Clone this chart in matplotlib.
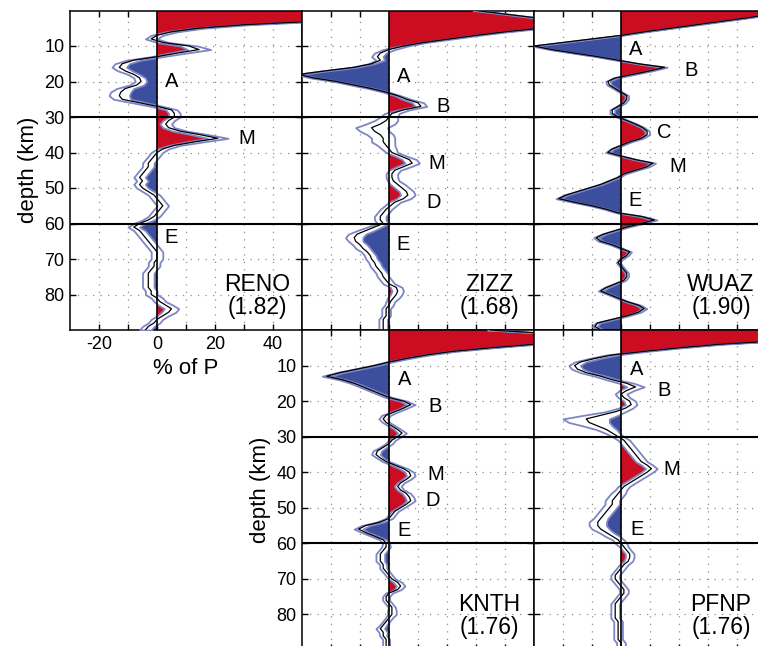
import numpy as np
import matplotlib
matplotlib.use('Agg')
import matplotlib.pyplot as plt

plt.rcParams['font.family'] = ['Liberation Sans', 'DejaVu Sans']

# receiver-function stacks, 1 km sampling from 0 to 90 km (values in % of P)
depth = np.arange(0, 91)

reno_rf = [55, 55, 55, 55, 30, 14, 5, 0, -2, 2,
           11, 14.5, 7, 0, -8, -12, -13, -11, -8, -6,
           -5.5, -7, -11, -12.5, -13, -12, -6, 0, 5, 6,
           6, 4, 3, 4, 8, 15, 21, 13, 6, 2,
           0, -1, -2, -3, -3, -4, -5, -6, -5, -6,
           -5, -3, -1, 0, 1, 2, 1, 0, -1, -3,
           -6, -8, -6, -5, -4, -3, -2, -1, 0, 0,
           0, -1, -1, -2, -3, -3, -3, -3, -3, -2,
           -2, 0, 1, 3, 5, 4, 2, 0, -1, -3,
           -4]
reno_err = [1.5, 1.5, 1.5, 1.5, 2, 2, 2, 2, 2, 2,
            3, 4, 3, 2, 2.5, 2.5, 2.5, 2.5, 2, 2,
            2, 2.5, 3, 3.5, 3.5, 3, 2.5, 2, 2, 2,
            2, 2, 2, 2, 2.5, 3, 3.5, 3, 2, 2,
            2, 2, 2, 2, 2, 2, 2, 2, 2, 2,
            2, 2, 2, 2, 2, 2, 2, 2, 2, 2,
            2, 2, 2, 2, 2, 2, 2, 2, 2, 2,
            2, 2, 2, 2, 2, 2, 2, 2, 2, 2,
            2, 2, 2, 2.5, 2.5, 2.5, 2, 2, 2, 2,
            2]

zizz_rf = [30, 40, 50, 55, 55, 52, 40, 30, 21, 12,
           5, 0, -3, -4, -3, -6, -12, -22, -31, -26,
           -18, -12, -6, -1, 3, 6, 10, 11, 5, 1,
           0, -1, -3, -6, -5, -3, -2, -2, -1, 0,
           1, 4, 7, 8, 5, 2, 1, 1, 1.5, 3,
           4.5, 6, 6.5, 5, 2, 0.5, -1, -2, -3, -3,
           -2, -5, -8, -11, -12, -11.5, -10, -9, -7.5, -6.5,
           -6, -5, -4.5, -3.5, -2.5, -2, -1, 0, 2.5, 3,
           2.5, 1.5, 0.5, 0, -1, -1, -1, -2, -2, -2,
           -2]
zizz_err = [1, 1, 1, 1, 1, 1, 1, 1, 1, 1,
            1.5, 2, 2, 2, 1.5, 1, 1, 1, 1, 1,
            1, 1, 1, 1, 1, 1.5, 2, 2, 2, 2.5,
            3, 4, 5, 5.5, 5, 4.5, 4, 4, 3, 2.5,
            2, 2, 2.5, 2.5, 2.5, 2, 2, 2, 2, 2.5,
            2.5, 2.5, 2.5, 2.5, 2, 2, 2, 2, 2, 2,
            2, 2.5, 3, 3, 3, 2.5, 2.5, 2.5, 2, 2,
            2, 2, 2, 2, 2, 2, 2, 2, 2, 2,
            2, 2, 1.5, 1.5, 1.5, 1.5, 1.5, 1.5, 1.5, 1.5,
            1.5]

wuaz_rf = [60, 52, 44, 35, 26, 17, 8, 0, -10, -20,
           -30, -24, -16, -8, -1, 6, 15, 10, 4, -2,
           -4.5, -4, -2, 0, 2, 2, 1, -1, -3, -3,
           -1, 2, 5, 7.5, 9, 9, 7, 3, 0, -3,
           -4.5, 0, 5, 11, 9, 5, 1, -1, -4, -7,
           -11, -15, -19, -21.5, -16, -10, -5, -1, 7, 11.5,
           7, 2, -2, -6, -8.5, -7, -3, 0, 3, 2,
           0, -1, 0, 1, 2, 2, 1, -2, -5, -7,
           -4, -1, 2, 6, 8, 6, 2, -3, -8, -9,
           -7]
wuaz_err = [0.6, 0.6, 0.6, 0.6, 0.6, 0.6, 0.6, 0.6, 0.6, 0.6,
            0.8, 0.6, 0.6, 0.6, 0.6, 0.6, 0.9, 0.8, 0.6, 0.8,
            0.8, 0.8, 0.6, 0.6, 0.6, 0.6, 0.6, 0.6, 0.8, 0.8,
            0.6, 0.6, 0.6, 0.6, 0.8, 0.8, 0.6, 0.6, 0.6, 0.6,
            0.8, 0.6, 0.6, 0.9, 0.8, 0.6, 0.6, 0.6, 0.6, 0.6,
            0.6, 0.6, 0.6, 0.9, 0.8, 0.6, 0.6, 0.6, 0.8, 0.9,
            0.8, 0.6, 0.6, 0.8, 0.9, 0.8, 0.6, 0.6, 0.6, 0.6,
            0.6, 0.6, 0.6, 0.6, 0.6, 0.6, 0.6, 0.6, 0.8, 0.8,
            0.6, 0.6, 0.6, 0.8, 0.9, 0.8, 0.6, 0.6, 0.8, 0.9,
            0.8]

knth_rf = [35, 55, 55, 55, 50, 35, 22, 13, 6, 0,
           -5, -11, -17, -21.5, -16, -12, -9, -6, -3, 0,
           5, 7.5, 5, 2, -1, -2, -1, 1, 3, 4.5,
           3, 1, 0, -2, -4, -4.5, -3, -1, 2, 5,
           7, 7.5, 6, 4, 3, 4, 6, 7, 7.5, 6,
           4, 2, 1, 0, -3, -8, -10.5, -8, -5, -2,
           -1, -1, -2, -3, -3, -3, -2, -2, -1, 0,
           1, 3, 4, 3, 0, -1, -1, 0, 1, 1,
           1, 0, -1, -2, -3, -2, -2, -1, -1, -1,
           -1]
knth_err = [1, 1, 1, 1, 1, 1, 1, 1, 1, 1,
            1.2, 1.2, 1.2, 1.5, 1.2, 1.2, 1.2, 1.2, 1.2, 1.2,
            1.2, 1.5, 1.2, 1.2, 1.5, 1.5, 1.2, 1.2, 1.2, 1.5,
            1.2, 1.2, 1.2, 1.2, 1.5, 1.5, 1.2, 1.2, 1.2, 1.5,
            1.5, 1.5, 1.5, 1.2, 1.2, 1.2, 1.5, 1.5, 1.5, 1.2,
            1.2, 1.2, 1.2, 1.2, 1.2, 1.5, 1.5, 1.2, 1.2, 1.2,
            1.2, 1.5, 1.5, 1.5, 1.5, 1.5, 1.2, 1.2, 1.2, 1.2,
            1.2, 1.5, 1.5, 1.2, 1.2, 1.2, 1.2, 1.2, 1.2, 1.5,
            1.5, 1.2, 1.2, 1.2, 1.5, 1.5, 1.2, 1.2, 1.2, 1.2,
            1.2]

pfnp_rf = [50, 55, 55, 55, 34, 20, 8, -3, -9, -14,
           -16, -15, -12, -7, -3, 2, 5, 2, 0, 1,
           3, 3.5, 1.5, -2, -7, -12, -11, -8, -5, -3,
           -1, 1, 2, 3, 4, 5, 6, 7, 9, 10.5,
           9, 7, 5, 3, 1, 0, -1, -2, -3, -3,
           -4, -5, -6, -7, -8, -8, -7, -5, -3, -1,
           0, 1, 2, 3, 3, 2.5, 1, 0, -1, -2,
           -2, -1, 0, 1, 1, 0, -1, -2, -2, -2,
           -2, -2, -1, -1, -1, -1, -1, -1, 0, 0,
           0]
pfnp_err = [1, 1, 1, 1, 1, 1, 1, 2, 2, 2,
            2, 2, 2, 2, 2, 2.5, 3, 2.5, 2, 2,
            2, 2, 2.5, 3.5, 6, 8, 7, 5, 3.5, 2.5,
            2, 2, 2, 2, 2, 2, 2, 2, 2, 2,
            2, 2, 2, 2, 2, 2, 2.5, 2.5, 2.5, 2.5,
            2.5, 2.5, 2.5, 2.5, 3, 3, 3, 2.5, 2.5, 2,
            2, 1.5, 1.5, 1.5, 1.5, 1.5, 1.5, 1.5, 1.5, 1.5,
            1.5, 1.5, 1.5, 1.5, 1.5, 1.5, 1.5, 1.5, 1.5, 1.5,
            1.5, 1.5, 1.5, 1.5, 1.5, 1.5, 1.5, 1.5, 1.5, 1.5,
            1.5]

stations = ['RENO', 'ZIZZ', 'WUAZ', 'KNTH', 'PFNP']
vp_vs = ['1.82', '1.68', '1.90', '1.76', '1.76']
rfs = [reno_rf, zizz_rf, wuaz_rf, knth_rf, pfnp_rf]
errs = [reno_err, zizz_err, wuaz_err, knth_err, pfnp_err]

# phase labels (letter, % of P, depth)
reno_marks = [('A', 5, 20), ('M', 31, 36), ('E', 5, 64)]
zizz_marks = [('A', 5, 18.7), ('B', 18.5, 27), ('M', 16.5, 43), ('D', 15.5, 54), ('E', 5, 66)]
wuaz_marks = [('A', 5, 11), ('B', 24, 17), ('C', 15, 34.5), ('M', 19.5, 44), ('E', 5, 53.5)]
knth_marks = [('A', 5.5, 14), ('B', 16, 21.6), ('M', 16, 40.7), ('D', 15, 48), ('E', 5.2, 56.5)]
pfnp_marks = [('A', 5.5, 11.2), ('B', 15, 17), ('M', 17.5, 39.3), ('E', 5.5, 56.2)]
marks = [reno_marks, zizz_marks, wuaz_marks, knth_marks, pfnp_marks]

RED = '#cc0c20'
BLUE = '#3c4e9e'
EDGE = '#7d86c4'

W, H = 758, 646
fig = plt.figure(figsize=(W / 100, H / 100), dpi=100)

def box(x0, y0, w, h):
    # pixel box (from top-left) -> figure fraction
    return [x0 / W, 1 - (y0 + h) / H, w / W, h / H]

col_x = [70, 302, 534]
row_y = [10.5, 330]
layout = [(0, 0), (1, 0), (2, 0), (1, 1), (2, 1)]  # (col, row) per station

for i, name in enumerate(stations):
    col, row = layout[i]
    h = 319.5 if row == 0 else 320
    ax = fig.add_axes(box(col_x[col], row_y[row], 232, h))
    rf = np.asarray(rfs[i], dtype=float)
    er = np.asarray(errs[i], dtype=float)

    ax.fill_betweenx(depth, 0, rf, where=rf >= 0, interpolate=True, color=RED, lw=0, zorder=2)
    ax.fill_betweenx(depth, 0, rf, where=rf <= 0, interpolate=True, color=BLUE, lw=0, zorder=2)
    # bootstrap bounds: white band edged in light blue
    ax.fill_betweenx(depth, rf - er, rf + er, facecolor='white', edgecolor=EDGE,
                     lw=1.3, zorder=3)
    ax.plot(rf, depth, color='k', lw=0.9, zorder=4)
    ax.axvline(0, color='k', lw=1.2, zorder=5)
    for d in (30, 60):
        ax.axhline(d, color='k', lw=1.5, zorder=5)

    ax.set_xlim(-30, 50)
    ax.set_ylim(90, 0)
    ax.set_xticks([-20, -10, 0, 10, 20, 30, 40])
    ax.set_yticks([10, 20, 30, 40, 50, 60, 70, 80])
    ax.grid(True, color='#8c8c8c', lw=0.9, linestyle=(0, (1, 5)))
    ax.set_axisbelow(True)
    ax.tick_params(direction='in', length=4, width=1, top=True, right=True,
                   labelsize=13, pad=4)
    for s in ax.spines.values():
        s.set_linewidth(1.1)

    if name == 'RENO':
        ax.set_xticklabels(['-20', '', '0', '', '20', '', '40'])
        ax.set_xlabel('% of P', fontsize=16, labelpad=4)
    else:
        ax.set_xticklabels([])
    if name in ('RENO', 'KNTH'):
        ax.set_ylabel('depth (km)', fontsize=16, labelpad=4)
    else:
        ax.set_yticklabels([])

    for letter, x, y in marks[i]:
        ax.text(x, y, letter, fontsize=14.5, ha='center', va='center', zorder=6)
    ax.text(0.806, 0.033, name + '\n(' + vp_vs[i] + ')', transform=ax.transAxes,
            ha='center', va='bottom', fontsize=16.5, linespacing=1.0, zorder=6)

fig.savefig('out.png', dpi=100)
